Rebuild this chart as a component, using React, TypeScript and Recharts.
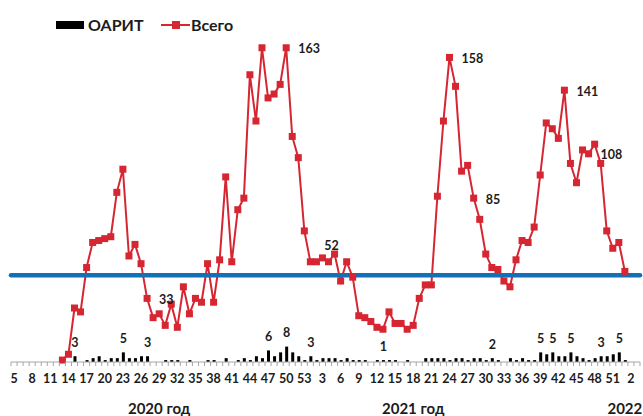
import React from 'react';
import { ComposedChart, Bar, Line, XAxis, YAxis, ReferenceLine, LabelList } from 'recharts';

// ---- categories (epidemiological weeks) ----
const weeks2020 = [5, 6, 7, 8, 9, 10, 11, 12, 13, 14, 15, 16, 17, 18, 19, 20, 21, 22, 23, 24, 25, 26, 27, 28, 29, 30, 31, 32, 33, 34, 35, 36, 37, 38, 39, 40, 41, 42, 43, 44, 45, 46, 47, 48, 49, 50, 51, 52, 53];
const weeks2021 = [1, 2, 3, 4, 5, 6, 7, 8, 9, 10, 11, 12, 13, 14, 15, 16, 17, 18, 19, 20, 21, 22, 23, 24, 25, 26, 27, 28, 29, 30, 31, 32, 33, 34, 35, 36, 37, 38, 39, 40, 41, 42, 43, 44, 45, 46, 47, 48, 49, 50, 51, 52];
const weeks2022 = [1, 2, 3];

// ---- series "Всего" ----
const vsego2020 = [null, null, null, null, null, null, null, null,
  1, 4, 28, 26, 49, 62, 63, 64, 65, 88,
  100, 55, 61, 51, 33, 23, 25, 19, 30, 18,
  39, 25, 33, 31, 51, 31, 53, 96, 52, 79,
  85, 149, 125, 163, 137, 139, 144, 163, 117, 106,
  68];
const vsego2021 = [52, 52, 54, 52, 56, 42, 52, 44, 24, 23,
  21, 18, 17, 26, 20, 20, 17, 19, 33, 40,
  40, 86, 125, 158, 143, 99, 102, 85, 74, 56,
  49, 48, 42, 39, 53, 63, 62, 70, 97, 124,
  121, 116, 141, 103, 93, 110, 108, 113, 103, 68,
  59, 62];
const vsego2022 = [47, null, null];

// ---- series "ОАРИТ" ----
const oarit2020 = [null, null, null, null, null, null, null, null, null, null,
  3, 0, 1, 2, 3, 1, 2, 2, 5, 2,
  2, 3, 3, 0, 0, 1, 1, 1, 0, 1,
  0, 0, 1, 1, 0, 2, 0, 1, 2, 1,
  3, 2, 6, 3, 5, 8, 5, 3, 1];
const oarit2021 = [3, 1, 2, 2, 2, 1, 2, 1, 1, 1,
  0, 1, 1, 1, 1, 0, 1, 0, 0, 2,
  2, 2, 2, 1, 2, 2, 1, 2, 2, 1,
  2, 1, 0, 2, 1, 2, 1, 1, 5, 4,
  5, 3, 3, 5, 3, 2, 1, 2, 3, 3,
  4, 5];
const oarit2022 = [1, null, null];

const threshold = 45;

// ---- annotation texts (keyed by year-week) ----
const vsegoLabels: Record<string, string> = {
  '2020-27': '33', '2020-50': '163', '2021-4': '52', '2021-24': '158',
  '2021-28': '85', '2021-43': '141', '2021-47': '108',
};
const vsegoAboveKeys = ['2021-4'];
const oaritLabels: Record<string, string> = {
  '2020-15': '3', '2020-23': '5', '2020-27': '3', '2020-47': '6', '2020-50': '8',
  '2021-1': '3', '2021-13': '1', '2021-31': '2', '2021-39': '5', '2021-41': '5',
  '2021-44': '5', '2021-49': '3', '2021-52': '5',
};
const yearLabels: Record<string, string> = {
  '2020-29': '2020 год', '2021-18': '2021 год', '2022-1': '2022',
};

const seriesNames = { oarit: 'ОАРИТ', vsego: 'Всего' };

// ---- build table ----
const years: [number, number[], (number | null)[], (number | null)[]][] = [
  [2020, weeks2020, vsego2020, oarit2020],
  [2021, weeks2021, vsego2021, oarit2021],
  [2022, weeks2022, vsego2022, oarit2022],
];
const rows: any[] = [];
years.forEach(([yr, wk, vs, oa]) => {
  wk.forEach((w, j) => {
    rows.push({ key: `${yr}-${w}`, week: String(w), vsego: vs[j], oarit: oa[j] });
  });
});

const RED = '#D62632';
const BLUE = '#1270B6';
const AXIS = '#A6A6A6';
const TXT = '#1c1c1c';
const FONT = "Lato, 'Open Sans', sans-serif";
const W = 643;
const H = 416;
const M = { top: 15, right: 3, left: 11, bottom: 0 };
const N = rows.length;
const BAND = (W - M.left - M.right) / N;

const WeekTick = (props: any) => {
  const { x, y, payload } = props;
  const i = payload.index;
  const row = rows[i];
  if (!row) return null;
  const yl = yearLabels[row.key];
  return (
    <g>
      <line x1={x - BAND / 2} x2={x - BAND / 2} y1={y} y2={y + 4} stroke={AXIS} strokeWidth={1} />
      {i === N - 1 && (
        <line x1={x + BAND / 2} x2={x + BAND / 2} y1={y} y2={y + 4} stroke={AXIS} strokeWidth={1} />
      )}
      {i % 3 === 0 && (
        <text x={x} y={y + 21} textAnchor="middle" fontFamily={FONT} fontWeight={700} fontSize={12.5} fill={TXT}>
          {row.week}
        </text>
      )}
      {yl && (
        <text x={x} y={y + 52} textAnchor="middle" fontFamily={FONT} fontWeight={700} fontSize={15} fill={TXT}>
          {yl}
        </text>
      )}
    </g>
  );
};

const SquareDot = (p: any) => {
  if (p.cx == null || p.cy == null || p.value == null) return <g key={p.index} />;
  return <rect key={p.index} x={p.cx - 3.5} y={p.cy - 3.5} width={7} height={7} fill={RED} />;
};

const lineLabel = (p: any) => {
  const t = vsegoLabels[p.value];
  if (!t || p.x == null || p.y == null) return null;
  if (vsegoAboveKeys.includes(p.value)) {
    return (
      <text x={p.x + 3} y={p.y - 12} textAnchor="middle" fontFamily={FONT} fontWeight={700} fontSize={12.5} fill={TXT}>
        {t}
      </text>
    );
  }
  return (
    <text x={p.x + 12} y={p.y + 5.5} textAnchor="start" fontFamily={FONT} fontWeight={700} fontSize={12.5} fill={TXT}>
      {t}
    </text>
  );
};

const barLabel = (p: any) => {
  const t = oaritLabels[p.value];
  if (!t || p.x == null || p.y == null) return null;
  return (
    <text x={p.x + p.width / 2} y={p.y - 9.5} textAnchor="middle" fontFamily={FONT} fontWeight={700} fontSize={12.5} fill={TXT}>
      {t}
    </text>
  );
};

export default function App() {
  return (
    <div style={{ position: 'absolute', left: 0, top: 0, width: W, height: H, background: '#fff' }}>
      <ComposedChart width={W} height={H} data={rows} margin={M}>
        <YAxis hide domain={[0, 180]} />
        <XAxis
          dataKey="key"
          interval={0}
          height={54}
          tickLine={false}
          tickSize={0}
          tickMargin={0}
          axisLine={{ stroke: AXIS, strokeWidth: 1 }}
          tick={<WeekTick />}
        />
        <Bar dataKey="oarit" name={seriesNames.oarit} fill="#000" barSize={3} isAnimationActive={false}>
          <LabelList dataKey="key" content={barLabel} />
        </Bar>
        <Line
          dataKey="vsego"
          name={seriesNames.vsego}
          stroke={RED}
          strokeWidth={2}
          dot={SquareDot}
          activeDot={false}
          isAnimationActive={false}
        >
          <LabelList dataKey="key" content={lineLabel} />
        </Line>
        <ReferenceLine y={threshold} stroke={BLUE} strokeWidth={4.5} strokeLinecap="round" />
      </ComposedChart>
      <div style={{ position: 'absolute', left: 0, top: 0, width: W, height: 40, fontFamily: FONT, fontWeight: 700, fontSize: 16, color: TXT }}>
        <div style={{ position: 'absolute', left: 56, top: 21, width: 28, height: 8, background: '#000' }} />
        <div style={{ position: 'absolute', left: 88, top: 15, lineHeight: '19px' }}>{seriesNames.oarit}</div>
        <div style={{ position: 'absolute', left: 161, top: 24, width: 29, height: 2, background: RED }} />
        <div style={{ position: 'absolute', left: 172, top: 21, width: 8, height: 8, background: RED }} />
        <div style={{ position: 'absolute', left: 191, top: 15, lineHeight: '19px' }}>{seriesNames.vsego}</div>
      </div>
    </div>
  );
}
